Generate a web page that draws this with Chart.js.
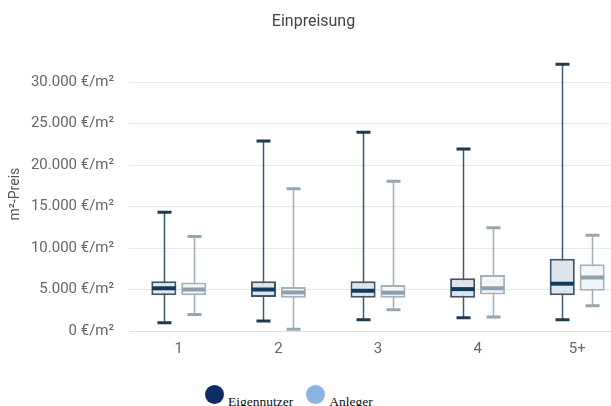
<!DOCTYPE html>
<html>
<head>
<meta charset="utf-8">
<script src="https://cdn.jsdelivr.net/npm/chart.js@4/dist/chart.umd.min.js"></script>
<style>
  html, body { margin: 0; padding: 0; overflow: hidden; background: #fff; width: 611px; height: 406px; }
  #wrap { position: absolute; left: 0; top: 0; width: 630px; height: 372px; }
  #legend { position: absolute; left: 205px; top: 385px; font-family: "Liberation Serif", "DejaVu Serif", serif; font-size: 13.5px; color: #111; white-space: nowrap; }
  .item { display: inline-block; position: relative; margin-right: 13px; }
  .dot { display: inline-block; width: 19px; height: 19px; border-radius: 50%; vertical-align: top; }
  .lbl { display: inline-block; position: relative; top: 9px; margin-left: 4px; }
</style>
</head>
<body>
<div id="wrap"><canvas id="chart"></canvas></div>
<div id="legend"></div>
<script>
const categories = ["1", "2", "3", "4", "5+"];
const seriesNames = ["Eigennutzer", "Anleger"];

// Boxplot-Werte je Kategorie: Minimum, Q1, Median, Q3, Maximum
const eigMin = [1000, 1200, 1350, 1600, 1350];
const eigQ1 = [4300, 4100, 4000, 4000, 4300];
const eigMedian = [5150, 5000, 4850, 5050, 5700];
const eigQ3 = [6000, 6000, 6000, 6350, 8700];
const eigMax = [14300, 22900, 23950, 21950, 32150];

const anlMin = [2000, 200, 2550, 1700, 3050];
const anlQ1 = [4300, 4000, 4000, 4400, 4850];
const anlMedian = [5000, 4650, 4620, 5150, 6450];
const anlQ3 = [5850, 5300, 5550, 6750, 8050];
const anlMax = [11400, 17150, 18050, 12450, 11550];

const yTicks = [0, 5000, 10000, 15000, 20000, 25000, 30000];

const legendColors = ["#0d2c66", "#8db3e2"];

const styles = [
  { fill: "#dee5ec", border: "#3f5668", median: "#0f3b5c", whisker: "#3d596c", cap: "#1d3a4f" },
  { fill: "#f3f6f8", border: "#a6b1b9", median: "#8aa0ae", whisker: "#a3afb8", cap: "#97a6b0" },
];

const stats = [
  { min: eigMin, q1: eigQ1, med: eigMedian, q3: eigQ3, max: eigMax },
  { min: anlMin, q1: anlQ1, med: anlMedian, q3: anlQ3, max: anlMax },
];

const fmt = (v) => v.toLocaleString("de-DE") + " €/m²";

// Whisker hinter den Boxen, Median darüber
const boxplotPlugin = {
  id: "boxplot",
  beforeDatasetsDraw(chart) {
    const ctx = chart.ctx;
    const y = chart.scales.y;
    chart.data.datasets.forEach((ds, di) => {
      const meta = chart.getDatasetMeta(di);
      const st = styles[di];
      const s = stats[di];
      meta.data.forEach((bar, i) => {
        const x = Math.round(bar.x) + 0.5;
        const yMax = y.getPixelForValue(s.max[i]);
        const yMin = y.getPixelForValue(s.min[i]);
        ctx.save();
        ctx.strokeStyle = st.whisker;
        ctx.lineWidth = 1.5;
        ctx.beginPath();
        ctx.moveTo(x, yMax);
        ctx.lineTo(x, yMin);
        ctx.stroke();
        ctx.strokeStyle = st.cap;
        ctx.lineWidth = 3;
        ctx.beginPath();
        ctx.moveTo(x - 7, yMax);
        ctx.lineTo(x + 7, yMax);
        ctx.moveTo(x - 7, yMin);
        ctx.lineTo(x + 7, yMin);
        ctx.stroke();
        ctx.restore();
      });
    });
  },
  afterDatasetsDraw(chart) {
    const ctx = chart.ctx;
    const y = chart.scales.y;
    chart.data.datasets.forEach((ds, di) => {
      const meta = chart.getDatasetMeta(di);
      const st = styles[di];
      meta.data.forEach((bar, i) => {
        const ym = y.getPixelForValue(stats[di].med[i]);
        ctx.save();
        ctx.strokeStyle = st.median;
        ctx.lineWidth = 4;
        ctx.beginPath();
        ctx.moveTo(bar.x - bar.width / 2 + 1, ym);
        ctx.lineTo(bar.x + bar.width / 2 - 1, ym);
        ctx.stroke();
        ctx.restore();
      });
    });
  },
};

new Chart(document.getElementById("chart"), {
  type: "bar",
  data: {
    labels: categories,
    datasets: stats.map((s, di) => ({
      label: seriesNames[di],
      data: s.q1.map((q, i) => [q, s.q3[i]]),
      backgroundColor: styles[di].fill,
      borderColor: styles[di].border,
      borderWidth: 2,
      borderSkipped: false,
      categoryPercentage: 0.6,
      barPercentage: 0.84,
    })),
  },
  options: {
    responsive: true,
    maintainAspectRatio: false,
    animation: false,
    layout: { padding: { left: 0, right: 3, top: 0, bottom: 5 } },
    plugins: {
      legend: { display: false },
      tooltip: { enabled: false },
      title: {
        display: true,
        text: "Einpreisung",
        color: "#444",
        font: { family: "Roboto", size: 16, weight: "normal" },
        padding: { top: 12, bottom: 26 },
      },
    },
    scales: {
      x: {
        grid: { display: false, drawTicks: false },
        border: { display: true, color: "#e2e2e2", width: 1 },
        ticks: { color: "#666", font: { family: "Roboto", size: 15 }, padding: 9 },
      },
      y: {
        min: 0,
        max: 33000,
        afterFit: (s) => { s.width = 129; },
        afterBuildTicks: (s) => { s.ticks = yTicks.map((v) => ({ value: v })); },
        grid: { color: "#e9e9e9", drawTicks: false },
        border: { display: false },
        ticks: { color: "#666", font: { family: "Roboto", size: 15 }, padding: 15, callback: (v) => fmt(v) },
        title: {
          display: true,
          text: "m²-Preis",
          color: "#555",
          font: { family: "Roboto", size: 14 },
          padding: { top: 7, bottom: 4 },
        },
      },
    },
  },
  plugins: [boxplotPlugin],
});

const legend = document.getElementById("legend");
seriesNames.forEach((name, i) => {
  const item = document.createElement("span");
  item.className = "item";
  const dot = document.createElement("span");
  dot.className = "dot";
  dot.style.background = legendColors[i];
  const lbl = document.createElement("span");
  lbl.className = "lbl";
  lbl.textContent = name;
  item.appendChild(dot);
  item.appendChild(lbl);
  legend.appendChild(item);
});
</script>
</body>
</html>
